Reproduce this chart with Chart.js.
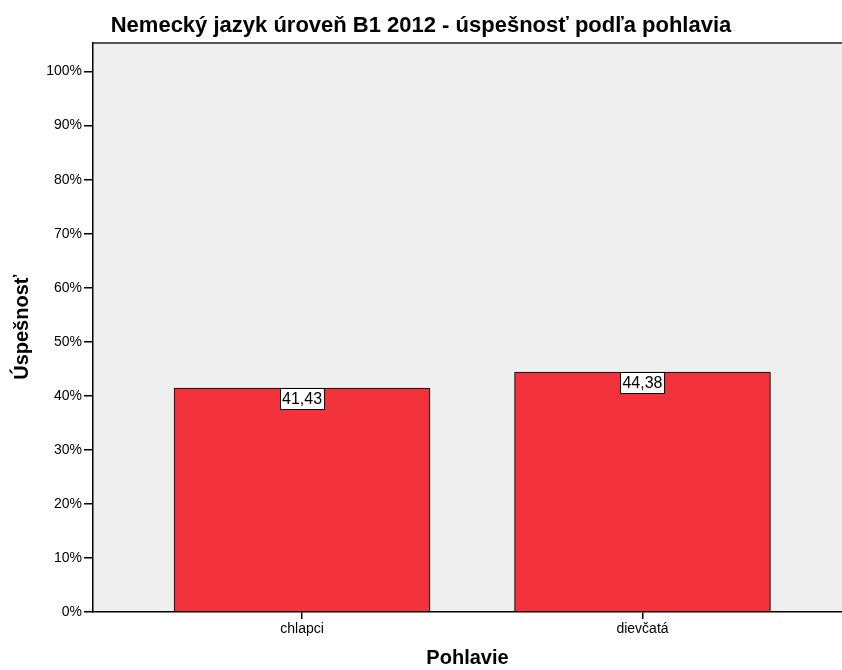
<!DOCTYPE html>
<html>
<head>
<meta charset="utf-8">
<script src="https://cdn.jsdelivr.net/npm/chart.js@4.4.1/dist/chart.umd.min.js"></script>
<style>
    html, body { margin: 0; padding: 0; background: #fff; }
    #wrap { width: 842px; height: 670px; }
</style>
</head>
<body>
<div id="wrap"><canvas id="myChart" width="842" height="670"></canvas></div>
<script>
let categories = ['chlapci', 'dievčatá'];
let scores = [41.43, 44.38];
let yTicks = [0, 10, 20, 30, 40, 50, 60, 70, 80, 90, 100];

const FONT = "'Liberation Sans', Arial, sans-serif";

// gray plot background plus the top frame line
const plotBg = {
    id: 'plotBg',
    beforeDraw(chart) {
        let a = chart.chartArea, c = chart.ctx;
        c.save();
        c.fillStyle = '#efefef';
        c.fillRect(a.left, a.top, a.right - a.left, a.bottom - a.top);
        c.strokeStyle = '#222';
        c.lineWidth = 1.5;
        c.beginPath();
        c.moveTo(a.left, a.top + 0.5);
        c.lineTo(a.right, a.top + 0.5);
        c.stroke();
        c.restore();
    }
};

// value boxes sitting on top of each bar
const valueBoxes = {
    id: 'valueBoxes',
    afterDatasetsDraw(chart) {
        let c = chart.ctx;
        let meta = chart.getDatasetMeta(0);
        c.save();
        c.font = '16px ' + FONT;
        c.textAlign = 'center';
        c.textBaseline = 'middle';
        meta.data.forEach((bar, i) => {
            let txt = scores[i].toFixed(2).replace('.', ',');
            let w = c.measureText(txt).width + 4;
            let h = 21;
            let x = Math.round(bar.x - w / 2) + 0.5;
            let y = Math.round(bar.y) + 0.5;
            c.fillStyle = '#fff';
            c.fillRect(x, y, w, h);
            c.strokeStyle = '#000';
            c.lineWidth = 1;
            c.strokeRect(x, y, w, h);
            c.fillStyle = '#000';
            c.fillText(txt, bar.x, y + h / 2 + 1);
        });
        c.restore();
    }
};

var ctx = document.getElementById('myChart').getContext('2d');
var myChart = new Chart(ctx, {
    type: 'bar',
    data: {
        datasets: [{
            data: scores.map((v, i) => ({ x: i + 1, y: v })),
            backgroundColor: '#f2333b',
            borderColor: '#1a1a1a',
            borderWidth: 1.2,
            barThickness: 256
        }]
    },
    options: {
        responsive: false,
        animation: false,
        layout: { padding: { left: 0, right: 0, top: 0, bottom: 0 } },
        plugins: {
            legend: { display: false },
            tooltip: { enabled: false },
            title: {
                display: true,
                text: 'Nemecký jazyk úroveň B1 2012 - úspešnosť podľa pohlavia',
                color: '#000',
                font: { family: FONT, size: 22, weight: 'bold' },
                padding: { top: 13, bottom: 3 }
            }
        },
        scales: {
            x: {
                type: 'linear',
                offset: false,
                min: 0.386,
                max: 2.586,
                afterBuildTicks: (s) => { s.ticks = categories.map((c, i) => ({ value: i + 1 })); },
                afterFit: (s) => { s.height = 58; },
                ticks: {
                    color: '#000',
                    font: { family: FONT, size: 14 },
                    padding: 2,
                    callback: (v) => categories[v - 1]
                },
                grid: { offset: false, drawOnChartArea: false, color: '#000', tickLength: 7, lineWidth: 1.5 },
                border: { display: true, color: '#000', width: 1.5 },
                title: {
                    display: true,
                    text: 'Pohlavie',
                    color: '#000',
                    font: { family: FONT, size: 20, weight: 'bold' },
                    padding: { top: 0, bottom: 0 }
                }
            },
            y: {
                min: 0,
                max: 105.4,
                afterBuildTicks: (s) => { s.ticks = yTicks.map(v => ({ value: v })); },
                afterFit: (s) => { s.width = 93; },
                ticks: {
                    color: '#000',
                    font: { family: FONT, size: 14 },
                    padding: 2,
                    callback: (v) => v + '%'
                },
                grid: { drawOnChartArea: false, color: '#000', tickLength: 9, lineWidth: 1.5 },
                border: { display: true, color: '#000', width: 1.5 },
                title: {
                    display: true,
                    text: 'Úspešnosť',
                    color: '#000',
                    font: { family: FONT, size: 20, weight: 'bold' },
                    padding: { top: 10, bottom: 0 }
                }
            }
        }
    },
    plugins: [plotBg, valueBoxes]
});
</script>
</body>
</html>
